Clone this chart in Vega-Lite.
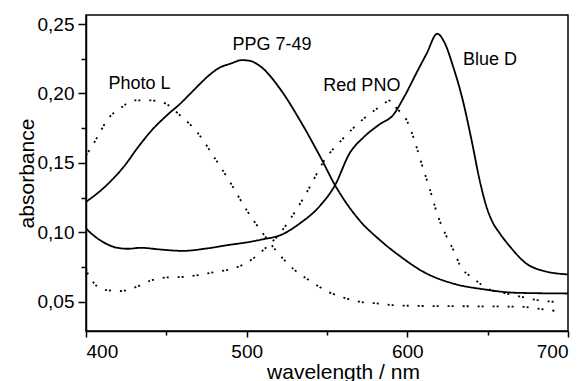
{
  "$schema": "https://vega.github.io/schema/vega-lite/v6.json",
  "width": 482,
  "height": 316,
  "autosize": "none",
  "padding": {"left": 86, "top": 15, "right": 19, "bottom": 50},
  "background": "white",
  "config": {
    "view": {"stroke": "black", "strokeWidth": 1.5},
    "font": "Liberation Sans",
    "axis": {"grid": false, "domainColor": "black", "tickColor": "black", "labelColor": "black", "titleColor": "black", "domainWidth": 1.5, "tickWidth": 1.5, "labelFont": "Liberation Sans", "titleFont": "Liberation Sans", "titleFontWeight": "normal"}
  },
  "datasets": {
    "spectra": [
      {"series": "PPG 7-49", "wl": 400, "abs": 0.122},
      {"series": "PPG 7-49", "wl": 409, "abs": 0.130},
      {"series": "PPG 7-49", "wl": 424, "abs": 0.148},
      {"series": "PPG 7-49", "wl": 432.5, "abs": 0.1615},
      {"series": "PPG 7-49", "wl": 440, "abs": 0.1723},
      {"series": "PPG 7-49", "wl": 452, "abs": 0.186},
      {"series": "PPG 7-49", "wl": 458.5, "abs": 0.1925},
      {"series": "PPG 7-49", "wl": 465, "abs": 0.2},
      {"series": "PPG 7-49", "wl": 471, "abs": 0.207},
      {"series": "PPG 7-49", "wl": 477, "abs": 0.2135},
      {"series": "PPG 7-49", "wl": 483, "abs": 0.2185},
      {"series": "PPG 7-49", "wl": 490, "abs": 0.2215},
      {"series": "PPG 7-49", "wl": 497, "abs": 0.224},
      {"series": "PPG 7-49", "wl": 502, "abs": 0.2235},
      {"series": "PPG 7-49", "wl": 508, "abs": 0.220},
      {"series": "PPG 7-49", "wl": 521, "abs": 0.203},
      {"series": "PPG 7-49", "wl": 533, "abs": 0.181},
      {"series": "PPG 7-49", "wl": 546, "abs": 0.154},
      {"series": "PPG 7-49", "wl": 555, "abs": 0.134},
      {"series": "PPG 7-49", "wl": 570, "abs": 0.109},
      {"series": "PPG 7-49", "wl": 583, "abs": 0.0944},
      {"series": "PPG 7-49", "wl": 596, "abs": 0.0824},
      {"series": "PPG 7-49", "wl": 610, "abs": 0.0716},
      {"series": "PPG 7-49", "wl": 630, "abs": 0.0627},
      {"series": "PPG 7-49", "wl": 647, "abs": 0.0591},
      {"series": "PPG 7-49", "wl": 668, "abs": 0.0565},
      {"series": "PPG 7-49", "wl": 700, "abs": 0.056},
      {"series": "Blue D", "wl": 400, "abs": 0.1028},
      {"series": "Blue D", "wl": 405, "abs": 0.0975},
      {"series": "Blue D", "wl": 410, "abs": 0.0935},
      {"series": "Blue D", "wl": 415, "abs": 0.0905},
      {"series": "Blue D", "wl": 420, "abs": 0.0888},
      {"series": "Blue D", "wl": 426, "abs": 0.0882},
      {"series": "Blue D", "wl": 434, "abs": 0.0889},
      {"series": "Blue D", "wl": 446, "abs": 0.0877},
      {"series": "Blue D", "wl": 460, "abs": 0.0867},
      {"series": "Blue D", "wl": 475, "abs": 0.0884},
      {"series": "Blue D", "wl": 488, "abs": 0.0908},
      {"series": "Blue D", "wl": 502, "abs": 0.0932},
      {"series": "Blue D", "wl": 510, "abs": 0.095},
      {"series": "Blue D", "wl": 521, "abs": 0.098},
      {"series": "Blue D", "wl": 533, "abs": 0.1064},
      {"series": "Blue D", "wl": 546, "abs": 0.1196},
      {"series": "Blue D", "wl": 555, "abs": 0.134},
      {"series": "Blue D", "wl": 564, "abs": 0.1568},
      {"series": "Blue D", "wl": 573, "abs": 0.1687},
      {"series": "Blue D", "wl": 583, "abs": 0.178},
      {"series": "Blue D", "wl": 591, "abs": 0.1843},
      {"series": "Blue D", "wl": 598, "abs": 0.1975},
      {"series": "Blue D", "wl": 606, "abs": 0.2155},
      {"series": "Blue D", "wl": 612, "abs": 0.2287},
      {"series": "Blue D", "wl": 618.6, "abs": 0.243},
      {"series": "Blue D", "wl": 623, "abs": 0.237},
      {"series": "Blue D", "wl": 628.6, "abs": 0.219},
      {"series": "Blue D", "wl": 634, "abs": 0.1975},
      {"series": "Blue D", "wl": 640, "abs": 0.1663},
      {"series": "Blue D", "wl": 645, "abs": 0.1376},
      {"series": "Blue D", "wl": 649.3, "abs": 0.1183},
      {"series": "Blue D", "wl": 653, "abs": 0.1075},
      {"series": "Blue D", "wl": 657.6, "abs": 0.0992},
      {"series": "Blue D", "wl": 664, "abs": 0.0896},
      {"series": "Blue D", "wl": 674, "abs": 0.0776},
      {"series": "Blue D", "wl": 683, "abs": 0.0728},
      {"series": "Blue D", "wl": 700, "abs": 0.0697},
      {"series": "Photo L", "wl": 400, "abs": 0.1556},
      {"series": "Photo L", "wl": 403.5, "abs": 0.1615},
      {"series": "Photo L", "wl": 410, "abs": 0.1748},
      {"series": "Photo L", "wl": 413, "abs": 0.1807},
      {"series": "Photo L", "wl": 421, "abs": 0.189},
      {"series": "Photo L", "wl": 430.5, "abs": 0.195},
      {"series": "Photo L", "wl": 440, "abs": 0.195},
      {"series": "Photo L", "wl": 449, "abs": 0.193},
      {"series": "Photo L", "wl": 458.5, "abs": 0.1843},
      {"series": "Photo L", "wl": 469.7, "abs": 0.1714},
      {"series": "Photo L", "wl": 479, "abs": 0.1555},
      {"series": "Photo L", "wl": 489.6, "abs": 0.1363},
      {"series": "Photo L", "wl": 500, "abs": 0.116},
      {"series": "Photo L", "wl": 510, "abs": 0.0994},
      {"series": "Photo L", "wl": 520.7, "abs": 0.0836},
      {"series": "Photo L", "wl": 530, "abs": 0.0728},
      {"series": "Photo L", "wl": 540.4, "abs": 0.0644},
      {"series": "Photo L", "wl": 550.8, "abs": 0.0572},
      {"series": "Photo L", "wl": 560, "abs": 0.0532},
      {"series": "Photo L", "wl": 570.5, "abs": 0.050},
      {"series": "Photo L", "wl": 581, "abs": 0.0489},
      {"series": "Photo L", "wl": 591, "abs": 0.0476},
      {"series": "Photo L", "wl": 610, "abs": 0.047},
      {"series": "Photo L", "wl": 640, "abs": 0.0468},
      {"series": "Photo L", "wl": 670, "abs": 0.0465},
      {"series": "Photo L", "wl": 680, "abs": 0.0453},
      {"series": "Photo L", "wl": 692, "abs": 0.0435},
      {"series": "Red PNO", "wl": 400, "abs": 0.074},
      {"series": "Red PNO", "wl": 401.5, "abs": 0.0692},
      {"series": "Red PNO", "wl": 403.5, "abs": 0.0656},
      {"series": "Red PNO", "wl": 410.8, "abs": 0.0589},
      {"series": "Red PNO", "wl": 421, "abs": 0.0577},
      {"series": "Red PNO", "wl": 430.5, "abs": 0.0604},
      {"series": "Red PNO", "wl": 441, "abs": 0.0656},
      {"series": "Red PNO", "wl": 451, "abs": 0.0676},
      {"series": "Red PNO", "wl": 461.6, "abs": 0.068},
      {"series": "Red PNO", "wl": 472, "abs": 0.0697},
      {"series": "Red PNO", "wl": 481, "abs": 0.0716},
      {"series": "Red PNO", "wl": 491.7, "abs": 0.074},
      {"series": "Red PNO", "wl": 501, "abs": 0.0788},
      {"series": "Red PNO", "wl": 511.4, "abs": 0.0884},
      {"series": "Red PNO", "wl": 519.7, "abs": 0.098},
      {"series": "Red PNO", "wl": 530, "abs": 0.1147},
      {"series": "Red PNO", "wl": 539.4, "abs": 0.133},
      {"series": "Red PNO", "wl": 547.7, "abs": 0.1507},
      {"series": "Red PNO", "wl": 560, "abs": 0.1676},
      {"series": "Red PNO", "wl": 570.5, "abs": 0.1795},
      {"series": "Red PNO", "wl": 581, "abs": 0.189},
      {"series": "Red PNO", "wl": 590, "abs": 0.195},
      {"series": "Red PNO", "wl": 593, "abs": 0.190},
      {"series": "Red PNO", "wl": 599.6, "abs": 0.1807},
      {"series": "Red PNO", "wl": 603.7, "abs": 0.1687},
      {"series": "Red PNO", "wl": 609, "abs": 0.149},
      {"series": "Red PNO", "wl": 614, "abs": 0.131},
      {"series": "Red PNO", "wl": 619.2, "abs": 0.1112},
      {"series": "Red PNO", "wl": 624.5, "abs": 0.0968},
      {"series": "Red PNO", "wl": 629.7, "abs": 0.0848},
      {"series": "Red PNO", "wl": 632.7, "abs": 0.0764},
      {"series": "Red PNO", "wl": 639, "abs": 0.0685},
      {"series": "Red PNO", "wl": 643, "abs": 0.0651},
      {"series": "Red PNO", "wl": 649, "abs": 0.060},
      {"series": "Red PNO", "wl": 661.5, "abs": 0.056},
      {"series": "Red PNO", "wl": 671, "abs": 0.0536},
      {"series": "Red PNO", "wl": 681, "abs": 0.0512},
      {"series": "Red PNO", "wl": 692, "abs": 0.050}
    ],
    "labels": [
      {"name": "PPG 7-49", "wl": 515.7, "abs": 0.2347},
      {"name": "Photo L", "wl": 433.3, "abs": 0.207},
      {"name": "Red PNO", "wl": 571.7, "abs": 0.2056},
      {"name": "Blue D", "wl": 651.4, "abs": 0.2239}
    ]
  },
  "layer": [
    {
      "data": {"name": "spectra"},
      "mark": {"type": "line", "color": "black", "interpolate": "monotone", "clip": true},
      "encoding": {
        "x": {"field": "wl", "type": "quantitative", "scale": {"domain": [400, 700], "nice": false, "zero": false},
          "axis": {"orient": "bottom", "values": [400, 500, 600, 700], "tickSize": 6, "labelPadding": 5, "labelFontSize": 19, "title": "wavelength / nm", "titleFontSize": 21, "titleX": 257, "titleY": 47, "titleBaseline": "alphabetic"}},
        "y": {"field": "abs", "type": "quantitative", "scale": {"domain": [0.029, 0.2565], "nice": false, "zero": false},
          "axis": {"orient": "left", "values": [0.05, 0.1, 0.15, 0.2, 0.25], "labelExpr": "replace(format(datum.value, '.2f'), '.', ',')", "tickSize": 8, "labelPadding": 4, "labelFontSize": 19, "title": "absorbance", "titleFontSize": 21, "titleX": -53, "titleY": 158, "titleBaseline": "alphabetic", "titleAngle": -90}},
        "detail": {"field": "series"},
        "strokeDash": {"field": "series", "type": "nominal", "legend": null,
          "scale": {"domain": ["PPG 7-49", "Blue D", "Photo L", "Red PNO"], "range": [[1, 0], [1, 0], [2, 2, 2, 9], [2, 2, 2, 9]]}},
        "strokeWidth": {"field": "series", "type": "nominal", "legend": null,
          "scale": {"domain": ["PPG 7-49", "Blue D", "Photo L", "Red PNO"], "range": [1.8, 1.8, 2.3, 2.3]}}
      }
    },
    {
      "data": {"name": "labels"},
      "mark": {"type": "text", "font": "Liberation Sans", "fontSize": 18, "color": "black", "align": "center", "baseline": "middle"},
      "encoding": {
        "x": {"field": "wl", "type": "quantitative",
          "axis": {"orient": "bottom", "values": [450, 550, 650], "labels": false, "tickSize": 4, "domain": false, "title": null}},
        "y": {"field": "abs", "type": "quantitative",
          "axis": {"orient": "left", "values": [0.075, 0.125, 0.175, 0.225], "labels": false, "tickSize": 5, "domain": false, "title": null}},
        "text": {"field": "name"}
      }
    }
  ],
  "resolve": {"axis": {"x": "independent", "y": "independent"}}
}
